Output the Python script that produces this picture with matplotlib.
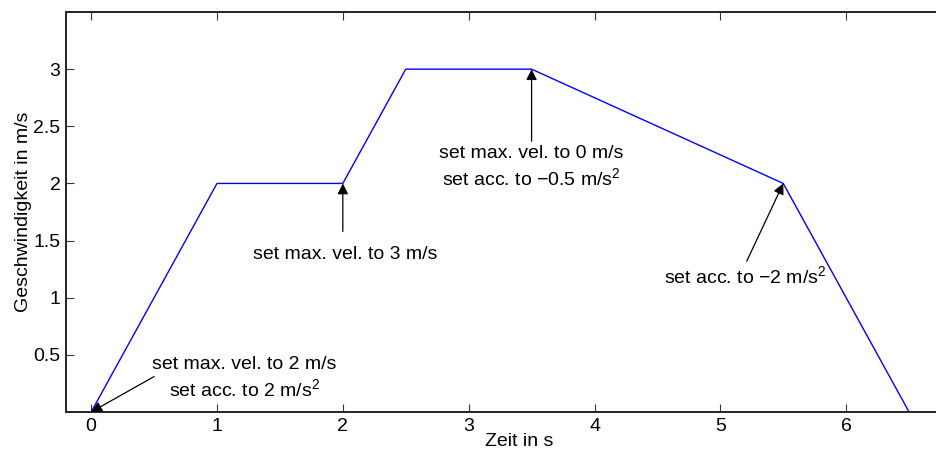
import matplotlib
matplotlib.use("Agg")
import matplotlib.pyplot as plt

plt.rcParams['font.family'] = ['Liberation Sans', 'DejaVu Sans']
plt.rcParams['mathtext.fontset'] = 'custom'
plt.rcParams['mathtext.rm'] = 'Liberation Sans'

# data
time_s = [0, 1, 2, 2.5, 3.5, 5.5, 6.5]
velocity = [0, 2, 2, 3, 3, 2, 0]

x_ticks = [0, 1, 2, 3, 4, 5, 6]
y_ticks = [0.5, 1, 1.5, 2, 2.5, 3]

# annotations: (text, arrow tip, arrow tail, text position)
ann_texts = ["set max. vel. to 2 m/s\nset acc. to 2 m/s$^2$",
             "set max. vel. to 3 m/s",
             "set max. vel. to 0 m/s\nset acc. to \u22120.5 m/s$^2$",
             "set acc. to \u22122 m/s$^2$"]
ann_tips = [(0, 0), (2, 2), (3.5, 3), (5.5, 2)]
ann_tails = [(0.5, 0.31), (2.0, 1.58), (3.5, 2.37), (5.21, 1.32)]
ann_text_pos = [(1.22, 0.29), (2.02, 1.38), (3.5, 2.14), (5.2, 1.18)]

fig = plt.figure(figsize=(9.36, 4.55), dpi=100)
# axes extend past the right edge of the figure (cropped like the reference)
ax = fig.add_axes([66/936, 1-412/455, (972-66)/936, (412-12)/455])

ax.plot(time_s, velocity, color='#0000ff', lw=1.0)

ax.set_xlim(-0.2, 7.0)
ax.set_ylim(0, 3.5)
ax.set_xticks(x_ticks)
ax.set_yticks(y_ticks)
ax.set_xticklabels([f"{t:g}" for t in x_ticks])
ax.set_yticklabels([f"{t:g}" for t in y_ticks])
ax.tick_params(direction='in', length=6, width=0.8, top=True, right=True,
               labelsize=14, color='#333333', pad=4)
for s in ax.spines.values():
    s.set_linewidth(1.4)
    s.set_color('#222222')

ax.set_xlabel("Zeit in s", fontsize=14, labelpad=-1)
ax.set_ylabel("Geschwindigkeit in m/s", fontsize=14, labelpad=1)

for txt, tip, tail, pos in zip(ann_texts, ann_tips, ann_tails, ann_text_pos):
    ax.annotate("", xy=tip, xytext=tail,
                arrowprops=dict(arrowstyle='-|>', color='black', lw=0.9,
                                mutation_scale=16, shrinkA=0, shrinkB=0))
    ax.text(pos[0], pos[1], txt, ha='center', va='center', fontsize=14,
            linespacing=1.3)

fig.savefig("out.png", dpi=100)
